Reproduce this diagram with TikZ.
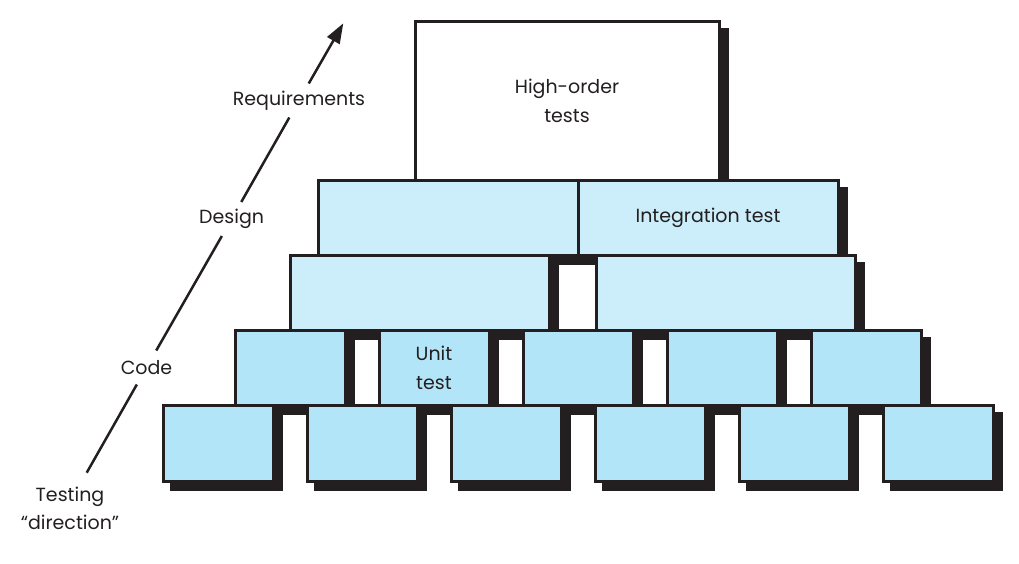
\documentclass[tikz,border=0pt]{standalone}
\usepackage{fontspec}
\setmainfont{Poppins}
\usetikzlibrary{arrows.meta,shadows}
\definecolor{boxlight}{HTML}{CCEEFA}
\definecolor{boxblue}{HTML}{B3E5F9}
\definecolor{ink}{HTML}{231F20}
\tikzset{
  blk/.style={rectangle, draw=ink, line width=3pt, inner sep=0pt, outer sep=0pt,
    text=ink, align=center, font=\fontsize{19}{29}\selectfont,
    general shadow={fill=ink, draw=ink, line width=3pt, shadow xshift=8pt, shadow yshift=-8pt}},
  lowblk/.style={blk, fill=boxblue, minimum width=110pt, minimum height=75pt},
  midblk/.style={blk, fill=boxlight, minimum height=75pt},
  lbl/.style={text=ink, font=\fontsize{19}{28}\selectfont, inner sep=0pt, outer sep=0pt,
    minimum height=34pt, align=center},
  dirline/.style={draw=ink, line width=2.5pt}
}
\begin{document}
\begin{tikzpicture}[x=1pt,y=-1pt]
\useasboundingbox (0,0) rectangle (1019,563);
% top block
\node[blk, fill=white, minimum width=304pt, minimum height=159pt] (top) at (567,101) {High-order\\tests};
% row 2
\node[midblk, minimum width=260pt] (r2a) at (448,218) {};
\node[midblk, minimum width=260pt] (r2b) at (708,218) {Integration test};
% row 3
\node[midblk, minimum width=259pt] (r3a) at (420,293) {};
\node[midblk, minimum width=259pt] (r3b) at (725.5,293) {};
% row 4
\node[lowblk] (r4a) at (290,368) {};
\node[lowblk] (r4b) at (434,368) {Unit\\test};
\node[lowblk] (r4c) at (578,368) {};
\node[lowblk] (r4d) at (722,368) {};
\node[lowblk] (r4e) at (866,368) {};
% row 5
\node[lowblk, minimum height=76pt] (r5a) at (218,443.5) {};
\node[lowblk, minimum height=76pt] (r5b) at (362,443.5) {};
\node[lowblk, minimum height=76pt] (r5c) at (506,443.5) {};
\node[lowblk, minimum height=76pt] (r5d) at (650,443.5) {};
\node[lowblk, minimum height=76pt] (r5e) at (794,443.5) {};
\node[lowblk, minimum height=76pt] (r5f) at (938,443.5) {};
% testing direction
\coordinate (start) at (86.7,472.7);
\coordinate (tip) at (343.3,23.3);
\node[lbl] (code) at (146.5,367.5) {Code};
\node[lbl] (design) at (231.6,219) {Design};
\node[lbl] (req) at (299,100.5) {Requirements};
\node[lbl, minimum height=0pt] (testing) at (70,508) {Testing\\“direction”};
\draw[dirline] (start) -- (code);
\draw[dirline] (code) -- (design);
\draw[dirline] (design) -- (req);
\draw[dirline, -{Triangle[length=20pt,width=14pt]}] (req) -- (tip);
\end{tikzpicture}
\end{document}
